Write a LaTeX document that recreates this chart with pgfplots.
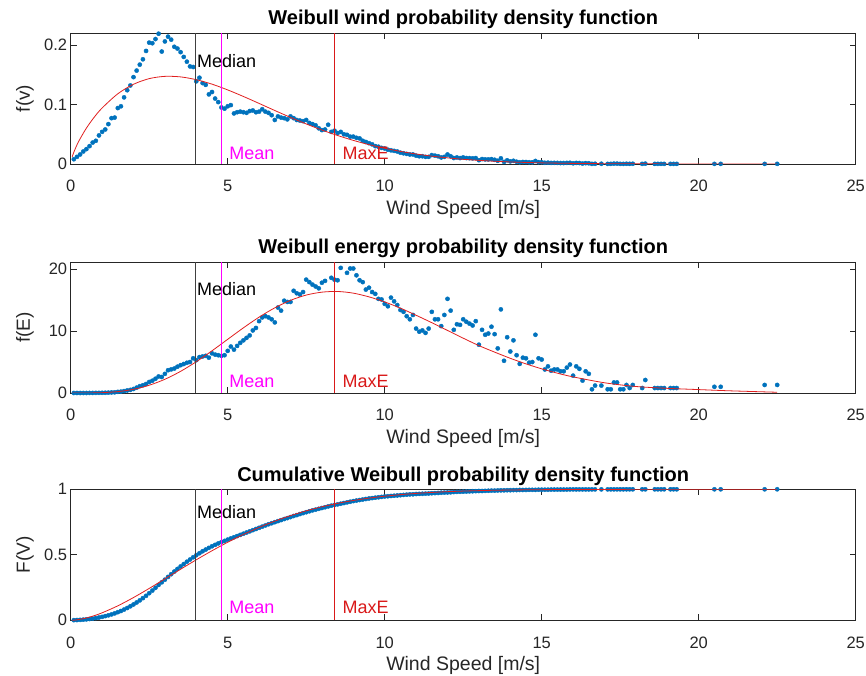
\documentclass[border=0pt]{standalone}
\usepackage{pgfplots}
\pgfplotsset{compat=1.18}
\usepackage{pgfplotstable}
\usepackage{fontspec}
\setmainfont{Liberation Sans}
\definecolor{mblue}{rgb}{0,0.447,0.741}
\definecolor{axgray}{rgb}{0.15,0.15,0.15}
\definecolor{fitred}{rgb}{0.88,0.12,0.12}
\definecolor{mmag}{rgb}{1,0,1}
\definecolor{mred}{rgb}{0.85,0.1,0.1}

\pgfplotstableread{
v f E F
0.1 0.008 0.00 0.001
0.2 0.012 0.00 0.002
0.3 0.016 0.00 0.003
0.4 0.021 0.00 0.005
0.5 0.025 0.00 0.007
0.6 0.030 0.01 0.010
0.7 0.036 0.01 0.013
0.8 0.039 0.02 0.017
0.9 0.048 0.02 0.021
1.0 0.054 0.03 0.026
1.1 0.058 0.04 0.032
1.2 0.067 0.06 0.038
1.3 0.077 0.09 0.045
1.4 0.078 0.11 0.053
1.5 0.094 0.18 0.062
1.6 0.097 0.22 0.071
1.7 0.112 0.31 0.082
1.8 0.124 0.41 0.094
1.9 0.132 0.50 0.107
2.0 0.146 0.65 0.121
2.1 0.157 0.87 0.136
2.2 0.167 1.10 0.152
2.3 0.176 1.25 0.169
2.4 0.190 1.45 0.187
2.5 0.204 1.78 0.207
2.6 0.203 1.98 0.227
2.7 0.210 2.30 0.248
2.8 0.219 2.67 0.270
2.9 0.189 2.58 0.290
3.0 0.206 3.09 0.310
3.1 0.214 3.68 0.331
3.2 0.209 3.81 0.352
3.3 0.197 3.95 0.372
3.4 0.194 4.25 0.392
3.5 0.188 4.49 0.411
3.6 0.180 4.68 0.429
3.7 0.172 4.88 0.447
3.8 0.164 5.00 0.464
3.9 0.163 5.60 0.481
4.0 0.139 5.30 0.497
4.1 0.145 5.80 0.512
4.2 0.136 5.90 0.527
4.3 0.133 6.00 0.540
4.4 0.117 5.70 0.553
4.5 0.121 6.40 0.565
4.6 0.110 6.20 0.576
4.7 0.104 6.10 0.587
4.8 0.095 6.00 0.597
4.9 0.093 6.10 0.606
5.0 0.097 6.80 0.616
5.1 0.099 7.50 0.625
5.2 0.085 7.00 0.634
5.3 0.087 7.60 0.643
5.4 0.088 8.10 0.652
5.5 0.087 8.50 0.661
5.6 0.086 8.90 0.670
5.7 0.089 9.30 0.679
5.8 0.090 10.1 0.688
5.9 0.087 10.5 0.697
6.0 0.088 11.6 0.706
6.1 0.092 12.2 0.715
6.2 0.088 12.4 0.724
6.3 0.086 12.2 0.733
6.4 0.082 11.9 0.741
6.5 0.074 11.4 0.749
6.6 0.080 13.8 0.757
6.7 0.078 13.3 0.765
6.8 0.077 14.9 0.773
6.9 0.075 14.7 0.780
7.0 0.080 14.7 0.788
7.1 0.077 16.5 0.796
7.2 0.074 16.1 0.803
7.3 0.073 15.9 0.811
7.4 0.072 16.3 0.818
7.5 0.074 18.3 0.825
7.6 0.069 17.9 0.832
7.7 0.067 17.5 0.839
7.8 0.065 17.2 0.845
7.9 0.060 16.9 0.851
8.0 0.057 17.8 0.857
8.1 0.058 18.1 0.863
8.2 0.066 21.2 0.869
8.3 0.054 18.6 0.875
8.4 0.056 18.3 0.880
8.5 0.052 18.2 0.885
8.6 0.054 20.2 0.890
8.7 0.050 21.4 0.895
8.8 0.049 19.4 0.900
8.9 0.046 20.1 0.905
9.0 0.046 20.1 0.910
9.1 0.044 19.0 0.914
9.2 0.043 18.2 0.918
9.3 0.039 17.9 0.922
9.4 0.037 16.7 0.926
9.5 0.035 17.0 0.930
9.6 0.033 16.3 0.933
9.7 0.030 16.0 0.936
9.8 0.029 15.2 0.939
9.9 0.027 15.1 0.942
10.0 0.026 14.4 0.945
10.1 0.024 14.0 0.947
10.2 0.023 15.4 0.949
10.3 0.022 14.8 0.951
10.4 0.021 14.2 0.953
10.5 0.019 13.4 0.955
10.6 0.018 13.1 0.957
10.7 0.017 12.4 0.959
10.8 0.016 11.9 0.961
10.9 0.016 12.6 0.962
11.0 0.014 10.4 0.964
11.1 0.013 9.9 0.965
11.2 0.013 10.1 0.966
11.3 0.012 9.7 0.967
11.4 0.012 10.4 0.968
11.5 0.015 13.1 0.970
11.6 0.014 11.9 0.971
11.7 0.013 11.9 0.972
11.8 0.011 10.8 0.974
11.9 0.012 12.6 0.975
12.0 0.016 15.2 0.976
12.1 0.013 13.3 0.977
12.2 0.010 10.2 0.979
12.3 0.011 11.1 0.980
12.4 0.010 11.0 0.981
12.5 0.011 11.9 0.982
12.6 0.010 11.5 0.983
12.7 0.0098 11.2 0.984
12.8 0.0095 10.9 0.985
12.9 0.0099 11.6 0.986
13.0 0.0064 7.8 0.987
13.1 0.0083 10.2 0.987
13.2 0.0077 9.4 0.988
13.3 0.0077 9.6 0.989
13.4 0.0082 10.7 0.990
13.5 0.0071 9.5 0.990
13.6 0.0054 7.2 0.991
13.7 0.0095 13.5 0.992
13.8 0.0036 5.2 0.992
13.9 0.0062 9.0 0.993
14.0 0.0044 6.7 0.993
14.1 0.0054 8.5 0.994
14.2 0.0038 6.1 0.994
14.3 0.0029 4.7 0.995
14.4 0.0034 5.7 0.995
14.5 0.0033 5.6 0.995
14.6 0.0029 4.9 0.996
14.7 0.0028 5.0 0.996
14.8 0.0051 9.4 0.996
14.9 0.0030 5.6 0.997
15.0 0.0029 5.4 0.997
15.1 0.0020 3.8 0.997
15.2 0.0022 4.3 0.997
15.3 0.0018 3.6 0.998
15.4 0.0019 3.8 0.998
15.5 0.0018 3.8 0.998
15.6 0.0016 3.5 0.998
15.7 0.0016 3.5 0.998
15.8 0.0018 4.1 0.998
15.9 0.0020 4.6 0.999
16.0 0.0012 2.8 0.999
16.1 0.0018 4.3 0.999
16.2 0.0016 3.9 0.999
16.3 0.0008 2.0 0.999
16.4 0.0014 3.5 0.999
16.5 0.0012 3.1 0.999
16.6 0.0002 0.6 0.9992
16.7 0.0004 1.2 0.9993
16.9 0.0004 1.2 0.9994
17.1 0.0002 0.6 0.9994
17.2 0.0002 0.6 0.9995
17.3 0.0006 1.7 0.9995
17.4 0.0006 1.7 0.9996
17.5 0.0002 0.6 0.9996
17.6 0.0002 0.6 0.9996
17.7 0.0004 1.3 0.9997
17.8 0.0003 0.8 0.9997
17.9 0.0004 1.3 0.9997
18.2 0.0002 0.8 0.9998
18.3 0.0006 2.1 0.9998
18.6 0.0002 0.8 0.9998
18.7 0.0002 0.8 0.9998
18.8 0.0002 0.8 0.9999
18.9 0.0002 0.8 0.9999
19.1 0.0002 0.8 0.9999
19.2 0.0002 0.8 0.9999
19.3 0.0002 0.8 0.9999
20.5 0.0002 1.0 1.0
20.7 0.0002 1.0 1.0
22.1 0.0002 1.3 1.0
22.5 0.0002 1.3 1.0
}\datatab

\pgfplotstableread{
v fw fe Fc
0.05 0.0122 0.0000 0.0005
0.1 0.0199 0.0000 0.0012
0.25 0.0376 0.0003 0.0055
0.5 0.0603 0.0042 0.0179
0.75 0.0787 0.0180 0.0354
1 0.0941 0.052 0.0570
1.5 0.1180 0.222 0.1104
2 0.1340 0.597 0.1737
2.5 0.1435 1.249 0.2433
3 0.1473 2.215 0.3161
3.5 0.1464 3.496 0.3898
4 0.1417 5.051 0.4620
4.5 0.1342 6.812 0.5310
5 0.1245 8.668 0.5958
5.5 0.1135 10.52 0.6553
6 0.1018 12.25 0.7091
6.5 0.0899 13.75 0.7570
7 0.0783 14.96 0.7991
7.5 0.0673 15.81 0.8354
8 0.0571 16.28 0.8665
8.5 0.0479 16.39 0.8927
9 0.0397 16.12 0.9146
9.5 0.0325 15.52 0.9326
10 0.0264 14.70 0.9473
10.5 0.0212 13.70 0.9591
11 0.0168 12.55 0.9686
11.5 0.0132 11.35 0.9760
12 0.0103 10.10 0.9819
12.5 0.0079 8.85 0.9864
13 0.0061 7.65 0.9899
13.5 0.0046 6.60 0.9926
14 0.0034 5.60 0.9946
14.5 0.0026 4.70 0.9961
15 0.0019 3.90 0.9972
15.5 0.0014 3.20 0.9980
16 0.0010 2.60 0.9986
17 0.0005 1.65 0.9993
18 0.00026 1.05 0.9997
19 0.00012 0.75 0.9998
20 0.00006 0.55 0.9999
21 0.00003 0.35 1.0
22.5 0.00001 0.12 1.0
}\fittab

\pgfplotsset{
  myaxis/.style={
    scale only axis, width=785pt, height=131pt,
    xmin=0, xmax=25, xtick={0,5,...,25},
    axis line style={axgray, line width=0.6pt},
    every tick/.style={axgray, line width=0.6pt},
    major tick length=6pt,
    tick align=inside,
    ticklabel style={font=\fontsize{16.5}{16.5}\selectfont, text=axgray},
    /pgf/number format/assume math mode=true,
    /pgf/number format/fixed,
    xticklabel style={anchor=base, yshift=-28pt},
    xlabel={Wind Speed [m/s]},
    xlabel style={at={(axis description cs:0.5,0)}, anchor=base, yshift=-50.5pt, font=\fontsize{19.5}{19.5}\selectfont, text=axgray},
    ylabel style={at={(axis description cs:-0.052,0.5)}, anchor=base, font=\fontsize{19}{19}\selectfont, text=axgray},
    every axis title shift=0pt,
    title style={at={(axis description cs:0.5,1)}, anchor=base, yshift=8pt, font=\bfseries\fontsize{20}{20}\selectfont},
    clip mode=individual,
  },
  dots/.style={only marks, mark=*, mark size=2.1pt, color=mblue, mark options={draw=none, fill=mblue}},
  fit/.style={fitred, line width=0.8pt, smooth, no marks},
}
\tikzset{lab/.style={anchor=west, inner sep=0pt, font=\fontsize{18}{18}\selectfont}}

\begin{document}
\begin{tikzpicture}
\path[use as bounding box] (0,0) rectangle (866pt,676pt);

% ---------- Axis 1 ----------
\begin{axis}[myaxis, at={(70.7pt,512pt)}, anchor=south west,
  ymin=0, ymax=0.2202, ytick={0,0.1,0.2},
  ylabel={f(v)}, title={Weibull wind probability density function}]
\addplot[dots] table[x=v, y=f] {\datatab};
\addplot[fit] table[x=v, y=fw] {\fittab};
\addplot[black!75, line width=0.6pt] coordinates {(3.97,0) (3.97,0.2202)};
\addplot[mmag, line width=0.6pt] coordinates {(4.81,0) (4.81,0.2202)};
\addplot[mred, line width=0.6pt] coordinates {(8.39,0) (8.39,0.2202)};
\node[lab, text=black] at (axis cs:4.02,0.173) {Median};
\node[lab, text=mmag] at (axis cs:5.05,0.017) {Mean};
\node[lab, text=mred] at (axis cs:8.65,0.017) {MaxE};
\end{axis}

% ---------- Axis 2 ----------
\begin{axis}[myaxis, at={(70.7pt,283pt)}, anchor=south west,
  ymin=0, ymax=21.15, ytick={0,10,20},
  ylabel={f(E)}, title={Weibull energy probability density function}]
\addplot[dots] table[x=v, y=E] {\datatab};
\addplot[fit] table[x=v, y=fe] {\fittab};
\addplot[black!75, line width=0.6pt] coordinates {(3.97,0) (3.97,21.15)};
\addplot[mmag, line width=0.6pt] coordinates {(4.81,0) (4.81,21.15)};
\addplot[mred, line width=0.6pt] coordinates {(8.39,0) (8.39,21.15)};
\node[lab, text=black] at (axis cs:4.02,16.7) {Median};
\node[lab, text=mmag] at (axis cs:5.05,1.9) {Mean};
\node[lab, text=mred] at (axis cs:8.65,1.9) {MaxE};
\end{axis}

% ---------- Axis 3 ----------
\begin{axis}[myaxis, at={(70.7pt,55.7pt)}, anchor=south west,
  ymin=0, ymax=1, ytick={0,0.5,1},
  ylabel={F(V)}, title={Cumulative Weibull probability density function}]
\addplot[dots] table[x=v, y=F] {\datatab};
\addplot[fit] table[x=v, y=Fc] {\fittab};
\addplot[black!75, line width=0.6pt] coordinates {(3.97,0) (3.97,1)};
\addplot[mmag, line width=0.6pt] coordinates {(4.81,0) (4.81,1)};
\addplot[mred, line width=0.6pt] coordinates {(8.39,0) (8.39,1)};
\node[lab, text=black] at (axis cs:4.02,0.825) {Median};
\node[lab, text=mmag] at (axis cs:5.05,0.10) {Mean};
\node[lab, text=mred] at (axis cs:8.65,0.10) {MaxE};
\end{axis}
\end{tikzpicture}
\end{document}
